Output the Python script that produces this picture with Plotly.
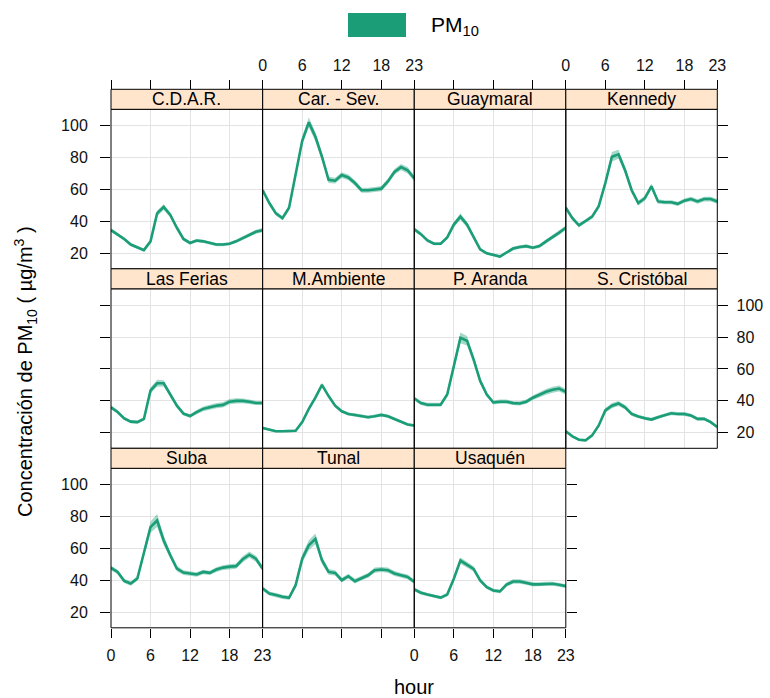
import plotly.graph_objects as go

# ---------------- data ----------------
hours = list(range(24))
stations = ["C.D.A.R.", "Car. - Sev.", "Guaymaral", "Kennedy",
            "Las Ferias", "M.Ambiente", "P. Aranda", "S. Cristóbal",
            "Suba", "Tunal", "Usaquén"]

cdar = [34.5, 32, 29, 25.5, 23.5, 22, 27.5, 45, 49, 44, 36, 29, 26.5, 28, 27.5, 26.5, 25.5, 25.5, 26, 27.5, 29.5, 31.5, 33.5, 34.5]
carsev = [59.5, 51.5, 45, 42, 48.5, 70, 90.5, 102, 93, 80.5, 66, 65.5, 69, 67.5, 64, 59.5, 59.5, 60, 60.5, 65, 71, 74, 72, 67]
guaymaral = [35, 32, 28, 26, 26, 30, 38, 43, 38, 30, 22.5, 20, 19, 18, 20.5, 23, 24, 24.5, 23.5, 24.5, 27.5, 30, 33, 36]
kennedy = [48.5, 42, 37.5, 40, 43, 49.5, 64, 80.5, 82, 72, 59.5, 51.5, 54.5, 62, 52.5, 52, 52, 51, 53, 54, 52.5, 54, 54, 52.5]
ferias = [36, 33, 29, 27, 26.7, 28.7, 46.5, 51, 51, 44, 37, 32, 30.5, 33, 35, 36, 37, 37.5, 39.5, 40, 40, 39.5, 38.7, 38.7]
mambiente = [23, 22, 21, 21, 21, 21.3, 26.7, 35, 42, 50, 43, 37, 33.5, 31.8, 31.2, 30.4, 29.8, 30.4, 31.2, 30.4, 28.7, 27.1, 25.2, 24.6]
paranda = [41.5, 38.6, 37.6, 37.6, 37.6, 44, 62, 79.5, 77.7, 66, 52.5, 44, 39, 39.5, 39.5, 38.6, 38.4, 39.5, 42, 44, 45.7, 47, 47.7, 45.7]
scristobal = [21, 17.8, 15.7, 15.3, 18.4, 24.6, 34, 37, 38.4, 36, 31.8, 30.2, 29.1, 28.3, 29.8, 31.2, 32.2, 31.8, 31.8, 30.8, 28.7, 28.7, 26.7, 23.6]
suba = [47.8, 45.3, 39.7, 38, 41.2, 57.8, 73.4, 77.5, 65, 55.7, 47.4, 44.9, 44.3, 43.7, 45.3, 44.7, 46.8, 48, 48.6, 48.9, 53.2, 56.1, 53.6, 47.4]
tunal = [34.9, 31.8, 30.8, 29.7, 29.1, 37, 53.6, 62, 66, 52.6, 45.3, 44.7, 40.1, 42.6, 39.5, 41.6, 43.2, 46.4, 46.8, 46.4, 44.3, 43.2, 42.2, 39.1]
usaquen = [34.4, 32.3, 31.1, 30, 29.2, 31.1, 41, 52.4, 49.7, 47.2, 40, 35.8, 33.7, 33.1, 37.3, 39.3, 39.3, 38.5, 37.5, 37.5, 37.9, 37.9, 37.3, 36.4]

# half-width of the confidence band
cdar_ci = [1.2, 1.1, 1.0, 1.0, 1.0, 1.0, 1.2, 1.8, 1.8, 1.5, 1.3, 1.1, 1.0, 1.0, 1.0, 1.0, 1.0, 1.0, 1.0, 1.1, 1.2, 1.3, 1.3, 1.3]
carsev_ci = [1.5, 1.4, 1.3, 1.3, 1.5, 2.0, 2.6, 3.0, 2.8, 2.4, 2.0, 1.8, 1.8, 1.8, 1.7, 1.6, 1.6, 1.6, 1.6, 1.7, 1.8, 2.0, 2.0, 1.8]
guaymaral_ci = [1.3, 1.2, 1.1, 1.0, 1.0, 1.2, 1.6, 2.0, 1.7, 1.3, 1.0, 0.9, 0.9, 0.9, 1.0, 1.1, 1.1, 1.1, 1.0, 1.1, 1.2, 1.3, 1.4, 1.4]
kennedy_ci = [1.4, 1.3, 1.2, 1.2, 1.3, 1.6, 2.2, 3.0, 2.8, 2.2, 1.8, 1.5, 1.5, 1.8, 1.4, 1.3, 1.3, 1.3, 1.4, 1.4, 1.4, 1.5, 1.5, 1.5]
ferias_ci = [1.2, 1.1, 1.0, 1.0, 1.0, 1.1, 1.8, 2.2, 2.0, 1.6, 1.3, 1.1, 1.1, 1.3, 1.5, 1.6, 1.6, 1.6, 1.6, 1.6, 1.5, 1.4, 1.3, 1.3]
mambiente_ci = [0.8, 0.8, 0.7, 0.7, 0.7, 0.8, 1.0, 1.2, 1.3, 1.3, 1.2, 1.1, 1.0, 1.0, 1.0, 1.0, 1.0, 1.0, 1.0, 1.0, 1.0, 0.9, 0.9, 0.9]
paranda_ci = [1.3, 1.2, 1.2, 1.2, 1.2, 1.5, 2.4, 3.4, 3.0, 2.4, 1.8, 1.4, 1.3, 1.3, 1.3, 1.2, 1.3, 1.3, 1.4, 1.6, 1.8, 1.9, 1.9, 1.8]
scristobal_ci = [0.9, 0.8, 0.8, 0.8, 0.9, 1.1, 1.4, 1.6, 1.6, 1.4, 1.2, 1.1, 1.1, 1.1, 1.1, 1.2, 1.2, 1.2, 1.2, 1.1, 1.1, 1.0, 1.0, 1.0]
suba_ci = [1.5, 1.4, 1.3, 1.3, 1.5, 2.5, 3.5, 4.0, 3.0, 2.2, 1.7, 1.5, 1.4, 1.4, 1.4, 1.4, 1.5, 1.5, 1.5, 1.6, 1.9, 2.0, 1.9, 1.7]
tunal_ci = [1.4, 1.3, 1.3, 1.3, 1.3, 1.6, 2.6, 3.2, 3.4, 2.4, 1.8, 1.6, 1.5, 1.5, 1.5, 1.5, 1.5, 1.6, 1.6, 1.6, 1.5, 1.5, 1.5, 1.4]
usaquen_ci = [1.2, 1.1, 1.0, 1.0, 1.0, 1.1, 1.5, 2.0, 1.8, 1.6, 1.3, 1.1, 1.1, 1.1, 1.3, 1.4, 1.4, 1.3, 1.3, 1.3, 1.3, 1.2, 1.2, 1.2]

x_ticks = [0, 6, 12, 18, 23]
y_ticks = [20, 40, 60, 80, 100]

series = [cdar, carsev, guaymaral, kennedy, ferias, mambiente,
          paranda, scristobal, suba, tunal, usaquen]
bands = [cdar_ci, carsev_ci, guaymaral_ci, kennedy_ci, ferias_ci, mambiente_ci,
         paranda_ci, scristobal_ci, suba_ci, tunal_ci, usaquen_ci]

# ---------------- layout geometry (pixels) ----------------
W, H = 770, 698
col_x0 = [111, 262.7, 414.3, 565.8]
PW = 151.5
row_top = [109.3, 288.8, 468.3]
PH = 159.5
STRIP = 20

LINE_COL = "#1b9e77"
BAND_COL = "rgba(27,158,119,0.40)"
FONT = "Liberation Sans, Arial, sans-serif"
TICK_SIZE = 16

fig = go.Figure()
layout = dict(
    width=W, height=H, autosize=False,
    margin=dict(l=0, r=0, t=0, b=0, pad=0, autoexpand=False),
    paper_bgcolor="white", plot_bgcolor="white",
    showlegend=False,
    font=dict(family=FONT, size=14, color="black"),
)
shapes = []
annotations = []

for i, name in enumerate(stations):
    r, c = divmod(i, 4)
    n = i + 1
    xs = "x" if n == 1 else f"x{n}"
    ys = "y" if n == 1 else f"y{n}"
    xkey = "xaxis" if n == 1 else f"xaxis{n}"
    ykey = "yaxis" if n == 1 else f"yaxis{n}"

    y = series[i]
    ci = bands[i]
    upper = [v + e for v, e in zip(y, ci)]
    lower = [v - e for v, e in zip(y, ci)]
    fig.add_trace(go.Scatter(
        x=hours + hours[::-1], y=upper + lower[::-1], xaxis=xs, yaxis=ys,
        fill="toself", fillcolor=BAND_COL, line=dict(width=0),
        mode="lines", hoverinfo="skip"))
    fig.add_trace(go.Scatter(
        x=hours, y=y, xaxis=xs, yaxis=ys, mode="lines",
        line=dict(color=LINE_COL, width=2.6)))

    x0 = col_x0[c]
    top = row_top[r]
    xax = dict(
        domain=[x0 / W, (x0 + PW) / W],
        range=[0, 23], tickmode="array", tickvals=x_ticks,
        ticklen=9, tickwidth=1.2, tickcolor="black", automargin=False,
        tickfont=dict(family=FONT, size=TICK_SIZE, color="#111"),
        showgrid=True, gridcolor="#e3e3e3", gridwidth=1.4,
        zeroline=False, showline=False, fixedrange=True)
    if r == 0:
        # ticks sit on top of the strip
        xax.update(anchor="free", position=1 - (top - STRIP) / H, side="top",
                   ticks="outside", showticklabels=c in (1, 3),
                   ticklabelstandoff=3)
    elif r == 2:
        xax.update(anchor=ys, side="bottom", ticks="outside",
                   showticklabels=c in (0, 2), ticklabelstandoff=4)
    else:
        xax.update(anchor=ys, side="bottom", ticks="", showticklabels=False)
    layout[xkey] = xax

    if c == 0:
        yside, yticks = "left", "outside"
        ylabels = r in (0, 2)
    elif (r == 0 and c == 3) or (r == 1 and c == 3) or (r == 2 and c == 2):
        yside, yticks = "right", "outside"
        ylabels = (r == 1)
    else:
        yside, yticks, ylabels = "left", "", False
    layout[ykey] = dict(
        domain=[1 - (top + PH) / H, 1 - top / H], anchor=xs, side=yside,
        range=[10.3, 110.2], tickmode="array", tickvals=y_ticks,
        ticks=yticks, ticklen=10, tickwidth=1.2, tickcolor="black",
        showticklabels=ylabels, ticklabelstandoff=(9 if yside == "left" else 5),
        automargin=False,
        tickfont=dict(family=FONT, size=TICK_SIZE, color="#111"),
        showgrid=True, gridcolor="#e3e3e3", gridwidth=1.4,
        zeroline=False, showline=False, fixedrange=True)

    # panel border
    shapes.append(dict(
        type="rect", xref=f"{xs} domain", yref=f"{ys} domain",
        x0=0, x1=1, y0=0, y1=1,
        fillcolor="rgba(0,0,0,0)", line=dict(color="black", width=1), layer="above"))
    # strip
    shapes.append(dict(
        type="rect", xref=f"{xs} domain", yref=f"{ys} domain",
        x0=0, x1=1, y0=1, y1=1 + STRIP / PH,
        fillcolor="#ffe5cc", line=dict(color="black", width=1), layer="above"))
    annotations.append(dict(
        xref=f"{xs} domain", yref=f"{ys} domain", x=0.5, y=1 + STRIP / 2 / PH,
        text=name, showarrow=False, xanchor="center", yanchor="middle",
        font=dict(family=FONT, size=17.5, color="black")))

# legend key
shapes.append(dict(type="rect", xref="paper", yref="paper",
                   x0=348 / W, x1=406 / W, y0=1 - 37 / H, y1=1 - 13 / H,
                   fillcolor=LINE_COL, line=dict(width=0)))
annotations.append(dict(xref="paper", yref="paper", x=429 / W, y=1 - 26 / H,
                        text="PM<sub>10</sub>", showarrow=False,
                        xanchor="left", yanchor="middle",
                        font=dict(family=FONT, size=21, color="black")))
# axis titles
annotations.append(dict(xref="paper", yref="paper", x=25 / W, y=1 - 372 / H,
                        text="Concentración de PM<sub>10</sub> ( µg/m<sup>3</sup> )",
                        textangle=-90, showarrow=False,
                        xanchor="center", yanchor="middle",
                        font=dict(family=FONT, size=20, color="black")))
annotations.append(dict(xref="paper", yref="paper", x=414 / W, y=1 - 687 / H,
                        text="hour", showarrow=False,
                        xanchor="center", yanchor="middle",
                        font=dict(family=FONT, size=20, color="black")))

layout["shapes"] = shapes
layout["annotations"] = annotations
fig.update_layout(**layout)
fig.write_html(
    "out.html",
    config={"displayModeBar": False, "responsive": False},
    post_script=("document.body.style.margin='0';document.body.style.padding='0';"
                 "document.body.style.overflow='hidden';"
                 "document.documentElement.style.overflow='hidden';"),
)
